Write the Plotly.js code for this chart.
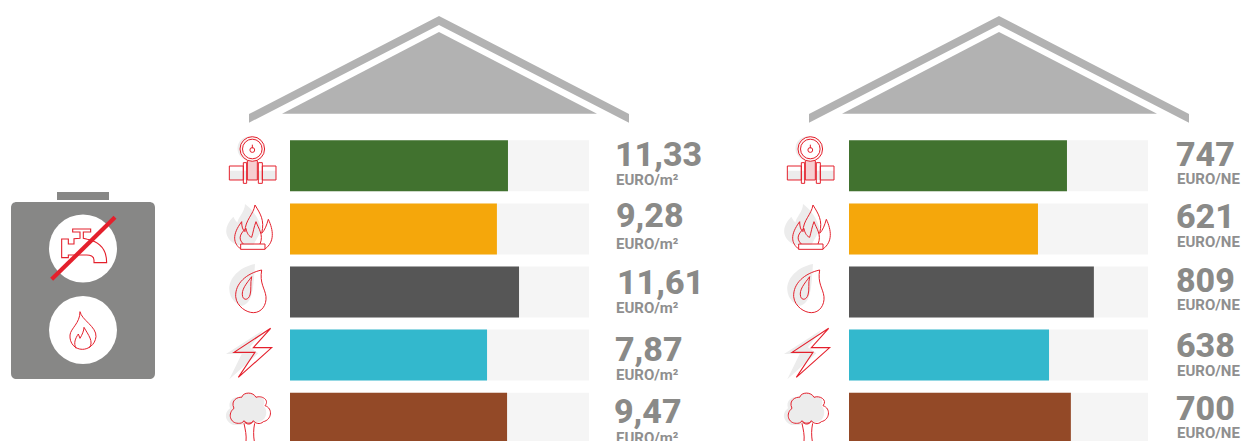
<!DOCTYPE html>
<html><head><meta charset="utf-8">
<script src="https://cdn.plot.ly/plotly-3.0.1.min.js"></script>
<style>html,body{margin:0;padding:0;background:#fff;overflow:hidden}#c{width:1243px;height:441px}</style>
</head><body><div id="c"></div>
<script>
// ---- data ----
const categories = ['Aardgas netwerk','Stookolie','Propaan','Elektriciteit','Pellets'];
const barColors = ['#41722f','#f5a70b','#565656','#33b8cd','#934927'];
const trackShare = [100,100,100,100,100];
const perM2Share = [72.9,69.2,76.6,65.9,72.6];   // filled length of each bar, % of its track
const perUnitShare = [72.9,63.2,81.9,66.9,74.2];
const perM2Labels = ['11,33','9,28','11,61','7,87','9,47'];
const perUnitLabels = ['747','621','809','638','700'];
const perM2Unit = 'EURO/m²';
const perUnitUnit = 'EURO/NE';

// ---- layout constants (pixels) ----
const W=1243,H=441;
const leftTrack=[290,589], rightTrack=[849,1148];
const rowTop=165.8,rowPitch=63.1,barPx=51;
const leftNumY=[154,215,282,349,411], rightNumY=[154,216,280,345,408];
const leftUnitY=[180,244,308,375,438], rightUnitY=[179,242,305,371,433];
const leftNumX=[613,613.5,615,612.5,612], rightNumX=1173.5;
const leftUnitX=613.5,rightUnitX=1174.5;
const panelDx=560, iconDx=558;
const RED='#e4202c',SHADOW='#ececec',ROOF='#b2b2b2',TANK='#878786',TEXT='#8a8a88';

// path helper: coordinates are pixels of a local frame (scale s, origin ox,oy), output in paper fractions
function P(d,ox,oy,s){
  s=s||1;
  return d.replace(/(-?[\d.]+),(-?[\d.]+)/g,(m,x,y)=>{
    const px=ox+(+x)*s, py=oy+(+y)*s;
    return (px/W).toFixed(5)+','+(1-py/H).toFixed(5);
  });
}
const shapes=[];
function fill(d,ox,oy,s,color){shapes.push({type:'path',xref:'paper',yref:'paper',path:P(d,ox,oy,s),fillcolor:color,line:{width:0}});}
function line(d,ox,oy,s,w,fc){shapes.push({type:'path',xref:'paper',yref:'paper',path:P(d,ox,oy,s),fillcolor:fc||'rgba(0,0,0,0)',line:{color:RED,width:w||1}});}
function circle(cx,cy,r,opt){shapes.push(Object.assign({type:'circle',xref:'paper',yref:'paper',x0:(cx-r)/W,x1:(cx+r)/W,y0:1-(cy+r)/H,y1:1-(cy-r)/H},opt));}

// roofs
[0,panelDx].forEach(dx=>{
  fill('M249,114 L439,16 L629,114 L629,122.7 L439,25 L249,122.7 Z',dx,0,1,ROOF);
  fill('M282,113.7 L439,32 L597,113.7 Z',dx,0,1,ROOF);
});

// tank
fill('M57,192 L109,192 L109,200 L57,200 Z',0,0,1,TANK);
fill('M17,202 L149,202 C153,202 155,204 155,208 L155,373 C155,377 153,379 149,379 L17,379 C13,379 11,377 11,373 L11,208 C11,204 13,202 17,202 Z',0,0,1,TANK);
circle(83,248.5,34,{fillcolor:'#fff',line:{width:0}});
circle(83,330,34,{fillcolor:'#fff',line:{width:0}});
const Z1=[0,180,1/3];
// tap
line('M218,147 L272,147 L272,156 L250,156 L250,175 L262,178 C295,185 320,205 320,248 L282,248 L282,240 C282,228 270,225 260,225 L205,225 L205,233 L185,233 L185,177 L205,177 L205,192 L222,192 L222,176 L240,175 L240,156 L218,156 Z',...Z1,1.1);
line('M345,112 L155,298',...Z1,4.2);
// small flame
line('M240,395 C245,420 290,440 288,470 C285,495 265,508 247,508 C225,508 208,490 210,465 C212,445 240,430 240,395 Z',...Z1,1);
line('M228,505 C220,490 226,475 235,462 L240,475 C246,465 252,452 252,442 C265,465 282,485 268,503',...Z1,1);

function pipe(dx){
  const o=[dx+220,130,1/3];
  circle(dx+249.5,148.5,12,{fillcolor:SHADOW,line:{width:0}});
  fill('M28,122 L168,122 L168,150 L28,150 Z',...o,SHADOW);
  fill('M82,92 L112,92 L112,150 L82,150 Z',...o,'#f6cfd1');
  circle(dx+252.3,149,12.3,{fillcolor:'#fdf3f3',line:{color:RED,width:1}});
  circle(dx+252.3,149,9.8,{fillcolor:'#ffffff',line:{color:RED,width:1}});
  circle(dx+252.3,150,2.4,{fillcolor:'rgba(0,0,0,0)',line:{color:RED,width:1}});
  line('M97,44 L97,55',...o,1);
  line('M28,108 L70,108 L70,150 L28,150 Z',...o,1);
  line('M127,108 L168,108 L168,150 L127,150 Z',...o,1);
  line('M70,98 L80,98 L80,160 L70,160 Z',...o,1);
  line('M115,98 L127,98 L127,160 L115,160 Z',...o,1);
  line('M82,92 L82,150 L112,150 L112,92',...o,1);
}
function flame(dx){
  const o=[dx,180,1/3];
  fill('M710,195 C670,175 670,140 700,110 C705,120 710,125 712,128 C715,110 735,95 735,72 C760,90 780,120 785,150 L760,195 Z',...o,SHADOW);
  line('M722,207 C700,190 695,165 725,125 C725,140 728,150 735,155 C735,120 760,105 765,75 C780,100 795,120 785,160 C795,150 800,135 805,118 C820,150 825,185 795,207',...o,1);
  line('M722,192 L795,192 L795,208 L722,208 Z',...o,1);
  line('M730,192 C712,175 722,160 738,145 C740,160 748,170 755,172 C760,155 762,140 768,125 C775,145 792,165 780,192',...o,1);
}
function drop(dx){
  const o=[dx+220,260,1/3];
  fill('M105,12 C60,20 25,55 28,90 C30,115 45,130 65,138 C100,130 100,80 105,12 Z',...o,SHADOW);
  line('M125,30 C80,40 45,70 47,110 C50,140 80,158 100,158 C125,158 140,135 138,110 C135,85 118,70 125,30 Z',...o,1);
  line('M95,50 C80,70 62,90 68,110 C72,122 85,120 90,105 C95,90 90,70 95,50 Z',...o,1);
}
function bolt(dx){
  const o=[dx+220,260,1/3];
  fill('M130,210 L18,282 L65,282 L28,358 L115,280 L90,262 Z',...o,SHADOW);
  line('M152,205 L42,277 L105,277 L55,352 L155,263 L100,263 Z',...o,1.1);
}
function tree(dx){
  const o=[dx+220,260,1/3];
  fill('M40,495 C15,485 10,460 30,445 C22,420 45,408 60,412 C70,395 100,395 108,412 C125,405 140,420 130,437 C145,450 140,480 120,485 L60,495 Z',...o,SHADOW);
  line('M55,490 C30,490 22,460 42,445 C30,420 55,410 65,412 C70,395 100,395 108,412 C125,405 150,420 135,437 C160,445 155,480 130,485 C120,495 105,490 100,482 C95,492 78,492 72,482 C68,490 60,490 55,490 Z',...o,1);
  line('M72,490 C76,510 80,525 78,545',...o,1);
  line('M104,490 C100,510 100,525 103,545',...o,1);
  line('M72,484 C80,495 92,495 100,484',...o,1);
}
[0,iconDx].forEach(dx=>{pipe(dx);flame(dx);drop(dx);bolt(dx);tree(dx);});

// annotations
function ann(text,x,y,size,color,weight){
  return {text,x:x/W,y:1-y/H,xref:'paper',yref:'paper',xanchor:'left',yanchor:'middle',showarrow:false,align:'left',
    font:{family:'Roboto, sans-serif',size,color,weight}};
}
const annotations=[];
categories.forEach((c,i)=>{
  annotations.push(ann(perM2Labels[i],leftNumX[i],leftNumY[i],34,TEXT,800));
  annotations.push(ann(perM2Unit,leftUnitX,leftUnitY[i],15,'#8f8f8f',700));
  annotations.push(ann(perUnitLabels[i],rightNumX,rightNumY[i],34,TEXT,800));
  annotations.push(ann(perUnitUnit,rightUnitX,rightUnitY[i],15,'#8f8f8f',700));
});

function bar(x,color,xaxis,name){
  return {type:'bar',orientation:'h',y:categories,x,xaxis,yaxis:'y',name,marker:{color,line:{width:0}},hoverinfo:'skip',showlegend:false};
}
const traces=[
  bar(trackShare,'#f5f5f5','x','track'),
  bar(perM2Share,barColors,'x','EURO/m²'),
  bar(trackShare,'#f5f5f5','x2','track'),
  bar(perUnitShare,barColors,'x2','EURO/NE')
];
const layout={
  width:W,height:H,margin:{l:0,r:0,t:0,b:0,pad:0},paper_bgcolor:'#fff',plot_bgcolor:'rgba(0,0,0,0)',
  barmode:'overlay',bargap:1-barPx/rowPitch,showlegend:false,
  xaxis:{domain:[leftTrack[0]/W,leftTrack[1]/W],range:[0,100],visible:false,fixedrange:true,anchor:'y'},
  xaxis2:{domain:[rightTrack[0]/W,rightTrack[1]/W],range:[0,100],visible:false,fixedrange:true,anchor:'y'},
  yaxis:{domain:[0,1],type:'category',categoryorder:'array',categoryarray:categories,
    range:[(H-rowTop)/rowPitch,-rowTop/rowPitch],visible:false,fixedrange:true},
  shapes,annotations
};
Plotly.newPlot('c',traces,layout,{displayModeBar:false,staticPlot:true});
</script></body></html>
